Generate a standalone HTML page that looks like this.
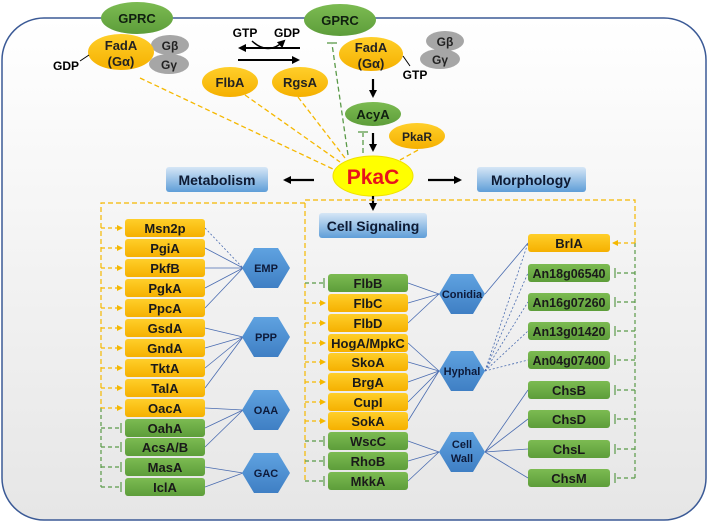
<!DOCTYPE html>
<html><head><meta charset="utf-8"><style>
html,body{margin:0;padding:0;background:#fff;}
svg{display:block;font-family:"Liberation Sans",Arial,sans-serif;font-weight:bold;}
</style></head><body>
<svg width="709" height="522" viewBox="0 0 709 522" xmlns="http://www.w3.org/2000/svg">
<defs>
<linearGradient id="bg" x1="0" y1="0" x2="0" y2="1"><stop offset="0" stop-color="#ffffff"/><stop offset="1" stop-color="#e6e6e6"/></linearGradient>
<linearGradient id="bl" x1="0" y1="0" x2="0" y2="1"><stop offset="0" stop-color="#d6e6f6"/><stop offset="1" stop-color="#5f9ed8"/></linearGradient>
<linearGradient id="og" x1="0" y1="0" x2="0" y2="1"><stop offset="0" stop-color="#ffcf2a"/><stop offset="1" stop-color="#f5b000"/></linearGradient>
<linearGradient id="gg" x1="0" y1="0" x2="0" y2="1"><stop offset="0" stop-color="#7cbb52"/><stop offset="1" stop-color="#5d9d3a"/></linearGradient>
<linearGradient id="hx" x1="0" y1="0" x2="0" y2="1"><stop offset="0" stop-color="#5fa2e0"/><stop offset="1" stop-color="#3f7fc4"/></linearGradient>
<marker id="ab" markerWidth="8" markerHeight="8" refX="6" refY="4" orient="auto" markerUnits="userSpaceOnUse"><path d="M0,0 L8,4 L0,8 z" fill="#000"/></marker>
<marker id="ao" markerWidth="6" markerHeight="6" refX="5" refY="3" orient="auto" markerUnits="userSpaceOnUse"><path d="M0,0 L6,3 L0,6 z" fill="#f5b800"/></marker>
</defs>
<rect x="2" y="18" width="704" height="502" rx="42" fill="url(#bg)" stroke="#3b5a96" stroke-width="1.5"/>

<g stroke="#f5b800" stroke-width="1.3" stroke-dasharray="5,3" fill="none">
<line x1="140" y1="78" x2="335" y2="170"/>
<line x1="245" y1="95" x2="340" y2="162"/>
<line x1="298" y1="97" x2="345" y2="158"/>
<line x1="418" y1="150" x2="400" y2="160"/>
</g>
<g stroke="#5a9a48" stroke-width="1.3" stroke-dasharray="5,3" fill="none">
<line x1="348" y1="155" x2="332" y2="44"/>
<line x1="363" y1="153" x2="363" y2="133"/>
</g>
<g stroke="#5a9a48" stroke-width="1.3"><line x1="327" y1="43" x2="337" y2="43"/><line x1="358" y1="132" x2="368" y2="132"/></g>

<ellipse cx="137" cy="18" rx="36" ry="16" fill="url(#gg)"/>
<text x="137" y="23" font-size="13" text-anchor="middle" fill="#102010">GPRC</text>
<ellipse cx="170" cy="45" rx="19" ry="10" fill="#a6a6a6"/>
<text x="170" y="50" font-size="12" text-anchor="middle" fill="#222">Gβ</text>
<ellipse cx="169" cy="64" rx="20" ry="10" fill="#a6a6a6"/>
<text x="169" y="69" font-size="12" text-anchor="middle" fill="#222">Gγ</text>
<ellipse cx="121" cy="52" rx="33" ry="18" fill="url(#og)"/>
<text x="121" y="50" font-size="13" text-anchor="middle" fill="#222">FadA</text>
<text x="121" y="66" font-size="13" text-anchor="middle" fill="#222">(Gα)</text>
<line x1="89" y1="55" x2="80" y2="61" stroke="#000"/>
<text x="66" y="70" font-size="12" text-anchor="middle">GDP</text>

<text x="245" y="37" font-size="12" text-anchor="middle">GTP</text>
<text x="287" y="37" font-size="12" text-anchor="middle">GDP</text>
<line x1="300" y1="48" x2="240" y2="48" stroke="#000" stroke-width="2" marker-end="url(#ab)"/>
<line x1="238" y1="60" x2="298" y2="60" stroke="#000" stroke-width="2" marker-end="url(#ab)"/>
<path d="M252,41 Q268,56 284,41" stroke="#000" stroke-width="1.5" fill="none" marker-end="url(#ab)"/>

<ellipse cx="230" cy="82" rx="28" ry="15" fill="url(#og)"/>
<text x="230" y="87" font-size="13" text-anchor="middle" fill="#222">FlbA</text>
<ellipse cx="300" cy="82" rx="28" ry="15" fill="url(#og)"/>
<text x="300" y="87" font-size="13" text-anchor="middle" fill="#222">RgsA</text>

<ellipse cx="340" cy="20" rx="36" ry="16" fill="url(#gg)"/>
<text x="340" y="25" font-size="13" text-anchor="middle" fill="#102010">GPRC</text>
<ellipse cx="445" cy="41" rx="19" ry="10" fill="#a6a6a6"/>
<text x="445" y="46" font-size="12" text-anchor="middle" fill="#222">Gβ</text>
<ellipse cx="440" cy="59" rx="20" ry="10" fill="#a6a6a6"/>
<text x="440" y="64" font-size="12" text-anchor="middle" fill="#222">Gγ</text>
<ellipse cx="371" cy="54" rx="32" ry="17" fill="url(#og)"/>
<text x="371" y="52" font-size="13" text-anchor="middle" fill="#222">FadA</text>
<text x="371" y="68" font-size="13" text-anchor="middle" fill="#222">(Gα)</text>
<line x1="403" y1="56" x2="410" y2="66" stroke="#000"/>
<text x="415" y="79" font-size="12" text-anchor="middle">GTP</text>
<line x1="373" y1="79" x2="373" y2="96" stroke="#000" stroke-width="2.2" marker-end="url(#ab)"/>
<ellipse cx="373" cy="114" rx="28" ry="12" fill="url(#gg)"/>
<text x="373" y="119" font-size="13" text-anchor="middle" fill="#102010">AcyA</text>
<line x1="373" y1="133" x2="373" y2="150" stroke="#000" stroke-width="2.2" marker-end="url(#ab)"/>
<ellipse cx="417" cy="136" rx="28" ry="13" fill="url(#og)"/>
<text x="417" y="141" font-size="12" text-anchor="middle" fill="#222">PkaR</text>

<ellipse cx="373" cy="176" rx="40" ry="20" fill="#ffff00" stroke="#f0e000"/>
<text x="373" y="184" font-size="21" text-anchor="middle" fill="#e8141b">PkaC</text>

<rect x="166" y="167" width="102" height="25" rx="3" fill="url(#bl)"/>
<text x="217" y="185" font-size="14" text-anchor="middle" fill="#0d1a33">Metabolism</text>
<rect x="477" y="167" width="109" height="25" rx="3" fill="url(#bl)"/>
<text x="531" y="185" font-size="14" text-anchor="middle" fill="#0d1a33">Morphology</text>
<rect x="319" y="213" width="108" height="25" rx="3" fill="url(#bl)"/>
<text x="373" y="231" font-size="14" text-anchor="middle" fill="#0d1a33">Cell Signaling</text>
<line x1="314" y1="180" x2="285" y2="180" stroke="#000" stroke-width="2.2" marker-end="url(#ab)"/>
<line x1="428" y1="180" x2="460" y2="180" stroke="#000" stroke-width="2.2" marker-end="url(#ab)"/>
<line x1="373" y1="196" x2="373" y2="209" stroke="#000" stroke-width="2.2" marker-end="url(#ab)"/>

<g stroke="#f5b800" stroke-width="1.2" stroke-dasharray="5,3" fill="none">
<polyline points="635,243 635,200 305,200 305,481"/>
<polyline points="305,203 101,203 101,408"/>
</g>
<g stroke="#5a9a48" stroke-width="1.2" stroke-dasharray="4,3" fill="none">
<line x1="101" y1="408" x2="101" y2="487"/>
<line x1="635" y1="243" x2="635" y2="478"/>
</g>

<g stroke="#4a6cb0" stroke-width="0.8" fill="none">
<line x1="205" y1="228" x2="243" y2="268" stroke-dasharray="2,2"/>
<line x1="205" y1="248" x2="243" y2="268"/><line x1="205" y1="268" x2="243" y2="268"/><line x1="205" y1="288" x2="243" y2="268"/><line x1="205" y1="308" x2="243" y2="268"/>
<line x1="205" y1="328" x2="243" y2="337"/><line x1="205" y1="348" x2="243" y2="337"/><line x1="205" y1="368" x2="243" y2="337"/><line x1="205" y1="388" x2="243" y2="337"/>
<line x1="205" y1="408" x2="243" y2="410"/><line x1="205" y1="428" x2="243" y2="410"/><line x1="205" y1="447" x2="243" y2="410"/>
<line x1="205" y1="467" x2="243" y2="473"/><line x1="205" y1="487" x2="243" y2="473"/>
<line x1="408" y1="283" x2="439" y2="294"/><line x1="408" y1="303" x2="439" y2="294"/><line x1="408" y1="323" x2="439" y2="294"/>
<line x1="408" y1="343" x2="439" y2="371"/><line x1="408" y1="362" x2="439" y2="371"/><line x1="408" y1="382" x2="439" y2="371"/><line x1="408" y1="402" x2="439" y2="371"/><line x1="408" y1="421" x2="439" y2="371"/>
<line x1="408" y1="441" x2="439" y2="452"/><line x1="408" y1="461" x2="439" y2="452"/><line x1="408" y1="481" x2="439" y2="452"/>
<line x1="485" y1="294" x2="528" y2="243"/>
<line x1="485" y1="452" x2="528" y2="390"/><line x1="485" y1="452" x2="528" y2="419"/><line x1="485" y1="452" x2="528" y2="449"/><line x1="485" y1="452" x2="528" y2="478"/>
<g stroke-dasharray="2,2"><line x1="485" y1="371" x2="528" y2="243"/><line x1="485" y1="371" x2="528" y2="273"/><line x1="485" y1="371" x2="528" y2="302"/><line x1="485" y1="371" x2="528" y2="331"/><line x1="485" y1="371" x2="528" y2="360"/></g>
</g>

<g stroke="#f5b800" stroke-width="1.2" stroke-dasharray="4,3">
<line x1="101" y1="228" x2="122" y2="228" marker-end="url(#ao)"/><line x1="101" y1="248" x2="122" y2="248" marker-end="url(#ao)"/><line x1="101" y1="268" x2="122" y2="268" marker-end="url(#ao)"/><line x1="101" y1="288" x2="122" y2="288" marker-end="url(#ao)"/><line x1="101" y1="308" x2="122" y2="308" marker-end="url(#ao)"/><line x1="101" y1="328" x2="122" y2="328" marker-end="url(#ao)"/><line x1="101" y1="348" x2="122" y2="348" marker-end="url(#ao)"/><line x1="101" y1="368" x2="122" y2="368" marker-end="url(#ao)"/><line x1="101" y1="388" x2="122" y2="388" marker-end="url(#ao)"/><line x1="101" y1="408" x2="122" y2="408" marker-end="url(#ao)"/>
<line x1="305" y1="303" x2="325" y2="303" marker-end="url(#ao)"/><line x1="305" y1="323" x2="325" y2="323" marker-end="url(#ao)"/><line x1="305" y1="343" x2="325" y2="343" marker-end="url(#ao)"/><line x1="305" y1="362" x2="325" y2="362" marker-end="url(#ao)"/><line x1="305" y1="382" x2="325" y2="382" marker-end="url(#ao)"/><line x1="305" y1="402" x2="325" y2="402" marker-end="url(#ao)"/><line x1="305" y1="421" x2="325" y2="421" marker-end="url(#ao)"/>
<line x1="635" y1="243" x2="613" y2="243" marker-end="url(#ao)"/>
</g>
<g stroke="#5a9a48" stroke-width="1.2">
<g stroke-dasharray="4,3"><line x1="101" y1="428" x2="120" y2="428"/><line x1="101" y1="447" x2="120" y2="447"/><line x1="101" y1="467" x2="120" y2="467"/><line x1="101" y1="487" x2="120" y2="487"/>
<line x1="305" y1="283" x2="323" y2="283"/><line x1="305" y1="441" x2="323" y2="441"/><line x1="305" y1="461" x2="323" y2="461"/><line x1="305" y1="481" x2="323" y2="481"/>
<line x1="635" y1="273" x2="616" y2="273"/><line x1="635" y1="302" x2="616" y2="302"/><line x1="635" y1="331" x2="616" y2="331"/><line x1="635" y1="360" x2="616" y2="360"/><line x1="635" y1="390" x2="616" y2="390"/><line x1="635" y1="419" x2="616" y2="419"/><line x1="635" y1="449" x2="616" y2="449"/><line x1="635" y1="478" x2="616" y2="478"/></g>
<line x1="121" y1="423" x2="121" y2="433"/><line x1="121" y1="442" x2="121" y2="452"/><line x1="121" y1="462" x2="121" y2="472"/><line x1="121" y1="482" x2="121" y2="492"/>
<line x1="324" y1="278" x2="324" y2="288"/><line x1="324" y1="436" x2="324" y2="446"/><line x1="324" y1="456" x2="324" y2="466"/><line x1="324" y1="476" x2="324" y2="486"/>
<line x1="615" y1="268" x2="615" y2="278"/><line x1="615" y1="297" x2="615" y2="307"/><line x1="615" y1="326" x2="615" y2="336"/><line x1="615" y1="355" x2="615" y2="365"/><line x1="615" y1="385" x2="615" y2="395"/><line x1="615" y1="414" x2="615" y2="424"/><line x1="615" y1="444" x2="615" y2="454"/><line x1="615" y1="473" x2="615" y2="483"/>
</g>

<g font-size="13" text-anchor="middle" fill="#1a1a1a">
<rect x="125" y="219" width="80" height="18" rx="3" fill="url(#og)"/><text x="165" y="233">Msn2p</text>
<rect x="125" y="239" width="80" height="18" rx="3" fill="url(#og)"/><text x="165" y="253">PgiA</text>
<rect x="125" y="259" width="80" height="18" rx="3" fill="url(#og)"/><text x="165" y="273">PkfB</text>
<rect x="125" y="279" width="80" height="18" rx="3" fill="url(#og)"/><text x="165" y="293">PgkA</text>
<rect x="125" y="299" width="80" height="18" rx="3" fill="url(#og)"/><text x="165" y="313">PpcA</text>
<rect x="125" y="319" width="80" height="18" rx="3" fill="url(#og)"/><text x="165" y="333">GsdA</text>
<rect x="125" y="339" width="80" height="18" rx="3" fill="url(#og)"/><text x="165" y="353">GndA</text>
<rect x="125" y="359" width="80" height="18" rx="3" fill="url(#og)"/><text x="165" y="373">TktA</text>
<rect x="125" y="379" width="80" height="18" rx="3" fill="url(#og)"/><text x="165" y="393">TalA</text>
<rect x="125" y="399" width="80" height="18" rx="3" fill="url(#og)"/><text x="165" y="413">OacA</text>
<rect x="125" y="419" width="80" height="18" rx="3" fill="url(#gg)"/><text x="165" y="433">OahA</text>
<rect x="125" y="438" width="80" height="18" rx="3" fill="url(#gg)"/><text x="165" y="452">AcsA/B</text>
<rect x="125" y="458" width="80" height="18" rx="3" fill="url(#gg)"/><text x="165" y="472">MasA</text>
<rect x="125" y="478" width="80" height="18" rx="3" fill="url(#gg)"/><text x="165" y="492">IclA</text>

<rect x="328" y="274" width="80" height="18" rx="3" fill="url(#gg)"/><text x="368" y="288">FlbB</text>
<rect x="328" y="294" width="80" height="18" rx="3" fill="url(#og)"/><text x="368" y="308">FlbC</text>
<rect x="328" y="314" width="80" height="18" rx="3" fill="url(#og)"/><text x="368" y="328">FlbD</text>
<rect x="328" y="334" width="80" height="18" rx="3" fill="url(#og)"/><text x="368" y="348">HogA/MpkC</text>
<rect x="328" y="353" width="80" height="18" rx="3" fill="url(#og)"/><text x="368" y="367">SkoA</text>
<rect x="328" y="373" width="80" height="18" rx="3" fill="url(#og)"/><text x="368" y="387">BrgA</text>
<rect x="328" y="393" width="80" height="18" rx="3" fill="url(#og)"/><text x="368" y="407">CupI</text>
<rect x="328" y="412" width="80" height="18" rx="3" fill="url(#og)"/><text x="368" y="426">SokA</text>
<rect x="328" y="432" width="80" height="18" rx="3" fill="url(#gg)"/><text x="368" y="446">WscC</text>
<rect x="328" y="452" width="80" height="18" rx="3" fill="url(#gg)"/><text x="368" y="466">RhoB</text>
<rect x="328" y="472" width="80" height="18" rx="3" fill="url(#gg)"/><text x="368" y="486">MkkA</text>

<rect x="528" y="234" width="82" height="18" rx="3" fill="url(#og)"/><text x="569" y="248">BrlA</text>
<rect x="528" y="264" width="82" height="18" rx="3" fill="url(#gg)"/><text x="569" y="278" font-size="12.5">An18g06540</text>
<rect x="528" y="293" width="82" height="18" rx="3" fill="url(#gg)"/><text x="569" y="307" font-size="12.5">An16g07260</text>
<rect x="528" y="322" width="82" height="18" rx="3" fill="url(#gg)"/><text x="569" y="336" font-size="12.5">An13g01420</text>
<rect x="528" y="351" width="82" height="18" rx="3" fill="url(#gg)"/><text x="569" y="365" font-size="12.5">An04g07400</text>
<rect x="528" y="381" width="82" height="18" rx="3" fill="url(#gg)"/><text x="569" y="395">ChsB</text>
<rect x="528" y="410" width="82" height="18" rx="3" fill="url(#gg)"/><text x="569" y="424">ChsD</text>
<rect x="528" y="440" width="82" height="18" rx="3" fill="url(#gg)"/><text x="569" y="454">ChsL</text>
<rect x="528" y="469" width="82" height="18" rx="3" fill="url(#gg)"/><text x="569" y="483">ChsM</text>
</g>

<g fill="url(#hx)">
<polygon points="242,268 254,248 278,248 290,268 278,288 254,288"/>
<polygon points="242,337 254,317 278,317 290,337 278,357 254,357"/>
<polygon points="242,410 254,390 278,390 290,410 278,430 254,430"/>
<polygon points="242,473 254,453 278,453 290,473 278,493 254,493"/>
<polygon points="439,294 451,274 473,274 485,294 473,314 451,314"/>
<polygon points="439,371 451,351 473,351 485,371 473,391 451,391"/>
<polygon points="439,452 451,432 473,432 485,452 473,472 451,472"/>
</g>
<g font-size="11" text-anchor="middle" fill="#0d1a3a">
<text x="266" y="272">EMP</text><text x="266" y="341">PPP</text><text x="266" y="414">OAA</text><text x="266" y="477">GAC</text>
<text x="462" y="298">Conidia</text><text x="462" y="375">Hyphal</text><text x="462" y="448">Cell</text><text x="462" y="462">Wall</text>
</g>
</svg>
</body></html>
